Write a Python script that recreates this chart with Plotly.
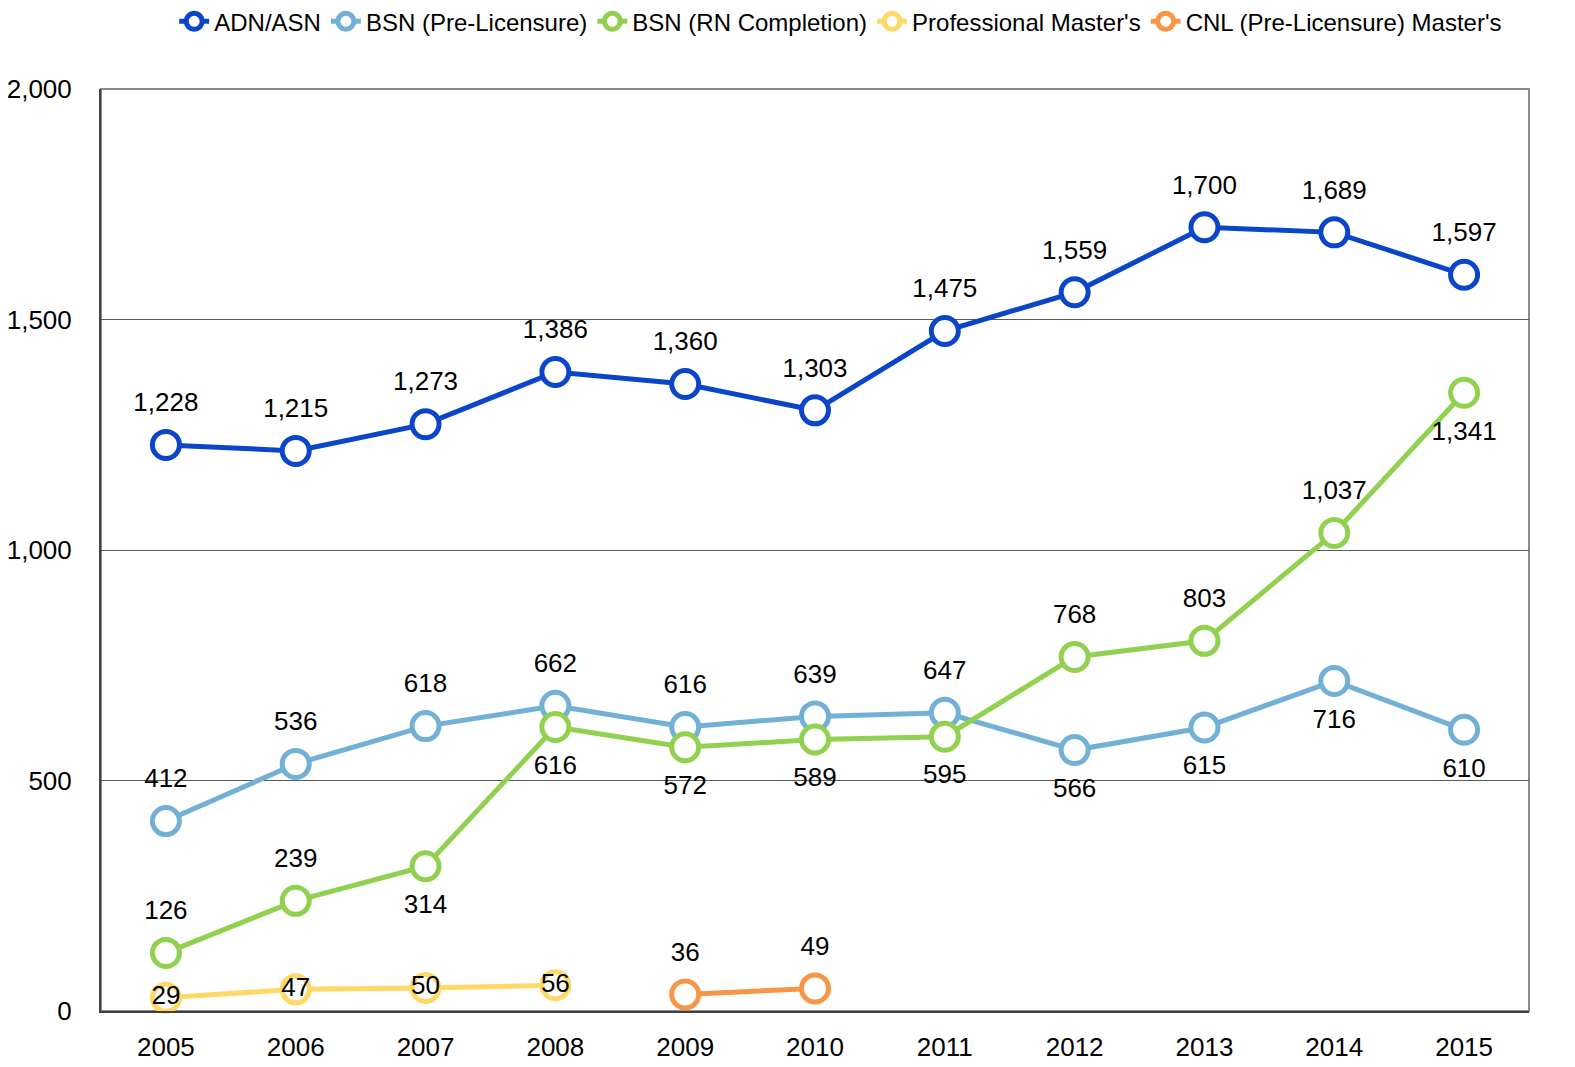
import plotly.graph_objects as go

years = ["2005", "2006", "2007", "2008", "2009", "2010", "2011", "2012", "2013", "2014", "2015"]

adn = [1228, 1215, 1273, 1386, 1360, 1303, 1475, 1559, 1700, 1689, 1597]
bsn_pre = [412, 536, 618, 662, 616, 639, 647, 566, 615, 716, 610]
bsn_rn = [126, 239, 314, 616, 572, 589, 595, 768, 803, 1037, 1341]
prof_masters = [29, 47, 50, 56, None, None, None, None, None, None, None]
cnl_masters = [None, None, None, None, 36, 49, None, None, None, None, None]

names = ["ADN/ASN", "BSN (Pre-Licensure)", "BSN (RN Completion)",
         "Professional Master's", "CNL (Pre-Licensure) Master's"]
colors = ["#0B45C9", "#72B0D6", "#92D050", "#FFD966", "#F79646"]

pos_adn = ["top center"] * 11
pos_pre = ["top center"] * 7 + ["bottom center"] * 4
pos_rn = ["top center", "top center", "bottom center", "bottom center", "bottom center",
          "bottom center", "bottom center", "top center", "top center", "top center",
          "bottom center"]
pos_prof = ["middle center"] * 11
pos_cnl = ["top center"] * 11

FONT = "Liberation Sans Narrow, Arial Narrow, Liberation Sans, Arial, sans-serif"

fig = go.Figure()
series = [adn, bsn_pre, bsn_rn, prof_masters, cnl_masters]
positions = [pos_adn, pos_pre, pos_rn, pos_prof, pos_cnl]

# lines and markers
for vals, name, col in zip(series, names, colors):
    fig.add_trace(go.Scatter(
        x=years, y=vals, name=name, mode="lines+markers",
        line=dict(color=col, width=5),
        marker=dict(symbol="circle", size=27, color="white",
                    line=dict(color=col, width=5)),
        connectgaps=False, cliponaxis=False,
    ))

# data labels (invisible larger markers push labels away from points)
for vals, name, pos in zip(series, names, positions):
    text = [f"{v:,}" if v is not None else "" for v in vals]
    centered = pos[0] == "middle center"
    fig.add_trace(go.Scatter(
        x=years, y=vals, name=name + " labels", mode="markers+text",
        text=text, textposition=pos, showlegend=False, hoverinfo="skip",
        textfont=dict(family=FONT, size=26, color="black"),
        marker=dict(size=27 if centered else 42, color="rgba(0,0,0,0)",
                    line=dict(width=0)),
        cliponaxis=False,
    ))

fig.update_layout(
    width=1567, height=1059,
    paper_bgcolor="white", plot_bgcolor="white",
    margin=dict(l=93, r=46, t=81, b=56, autoexpand=False),
    font=dict(family=FONT, size=26, color="black"),
    showlegend=True,
    legend=dict(orientation="h", x=0.518, xanchor="center", y=1.073, yanchor="middle",
                yref="paper", font=dict(family=FONT, size=24),
                tracegroupgap=0),
    xaxis=dict(type="category", range=[-0.5, 10.5], showgrid=False,
               showline=True, linecolor="#404040", linewidth=2, mirror=False,
               ticks="", ticklabelstandoff=12, tickfont=dict(family=FONT, size=26)),
    yaxis=dict(range=[0, 2000], tickvals=[0, 500, 1000, 1500, 2000],
               tickformat=",", showgrid=True, gridcolor="#595959", gridwidth=1,
               showline=True, linecolor="#404040", linewidth=2, zeroline=False,
               ticks="", ticklabelstandoff=22, tickfont=dict(family=FONT, size=26)),
    shapes=[dict(type="rect", xref="paper", yref="paper", x0=0, x1=1, y0=0, y1=1,
                 line=dict(color="#8c8c8c", width=2), layer="below")],
)

fig.write_html("out.html")
